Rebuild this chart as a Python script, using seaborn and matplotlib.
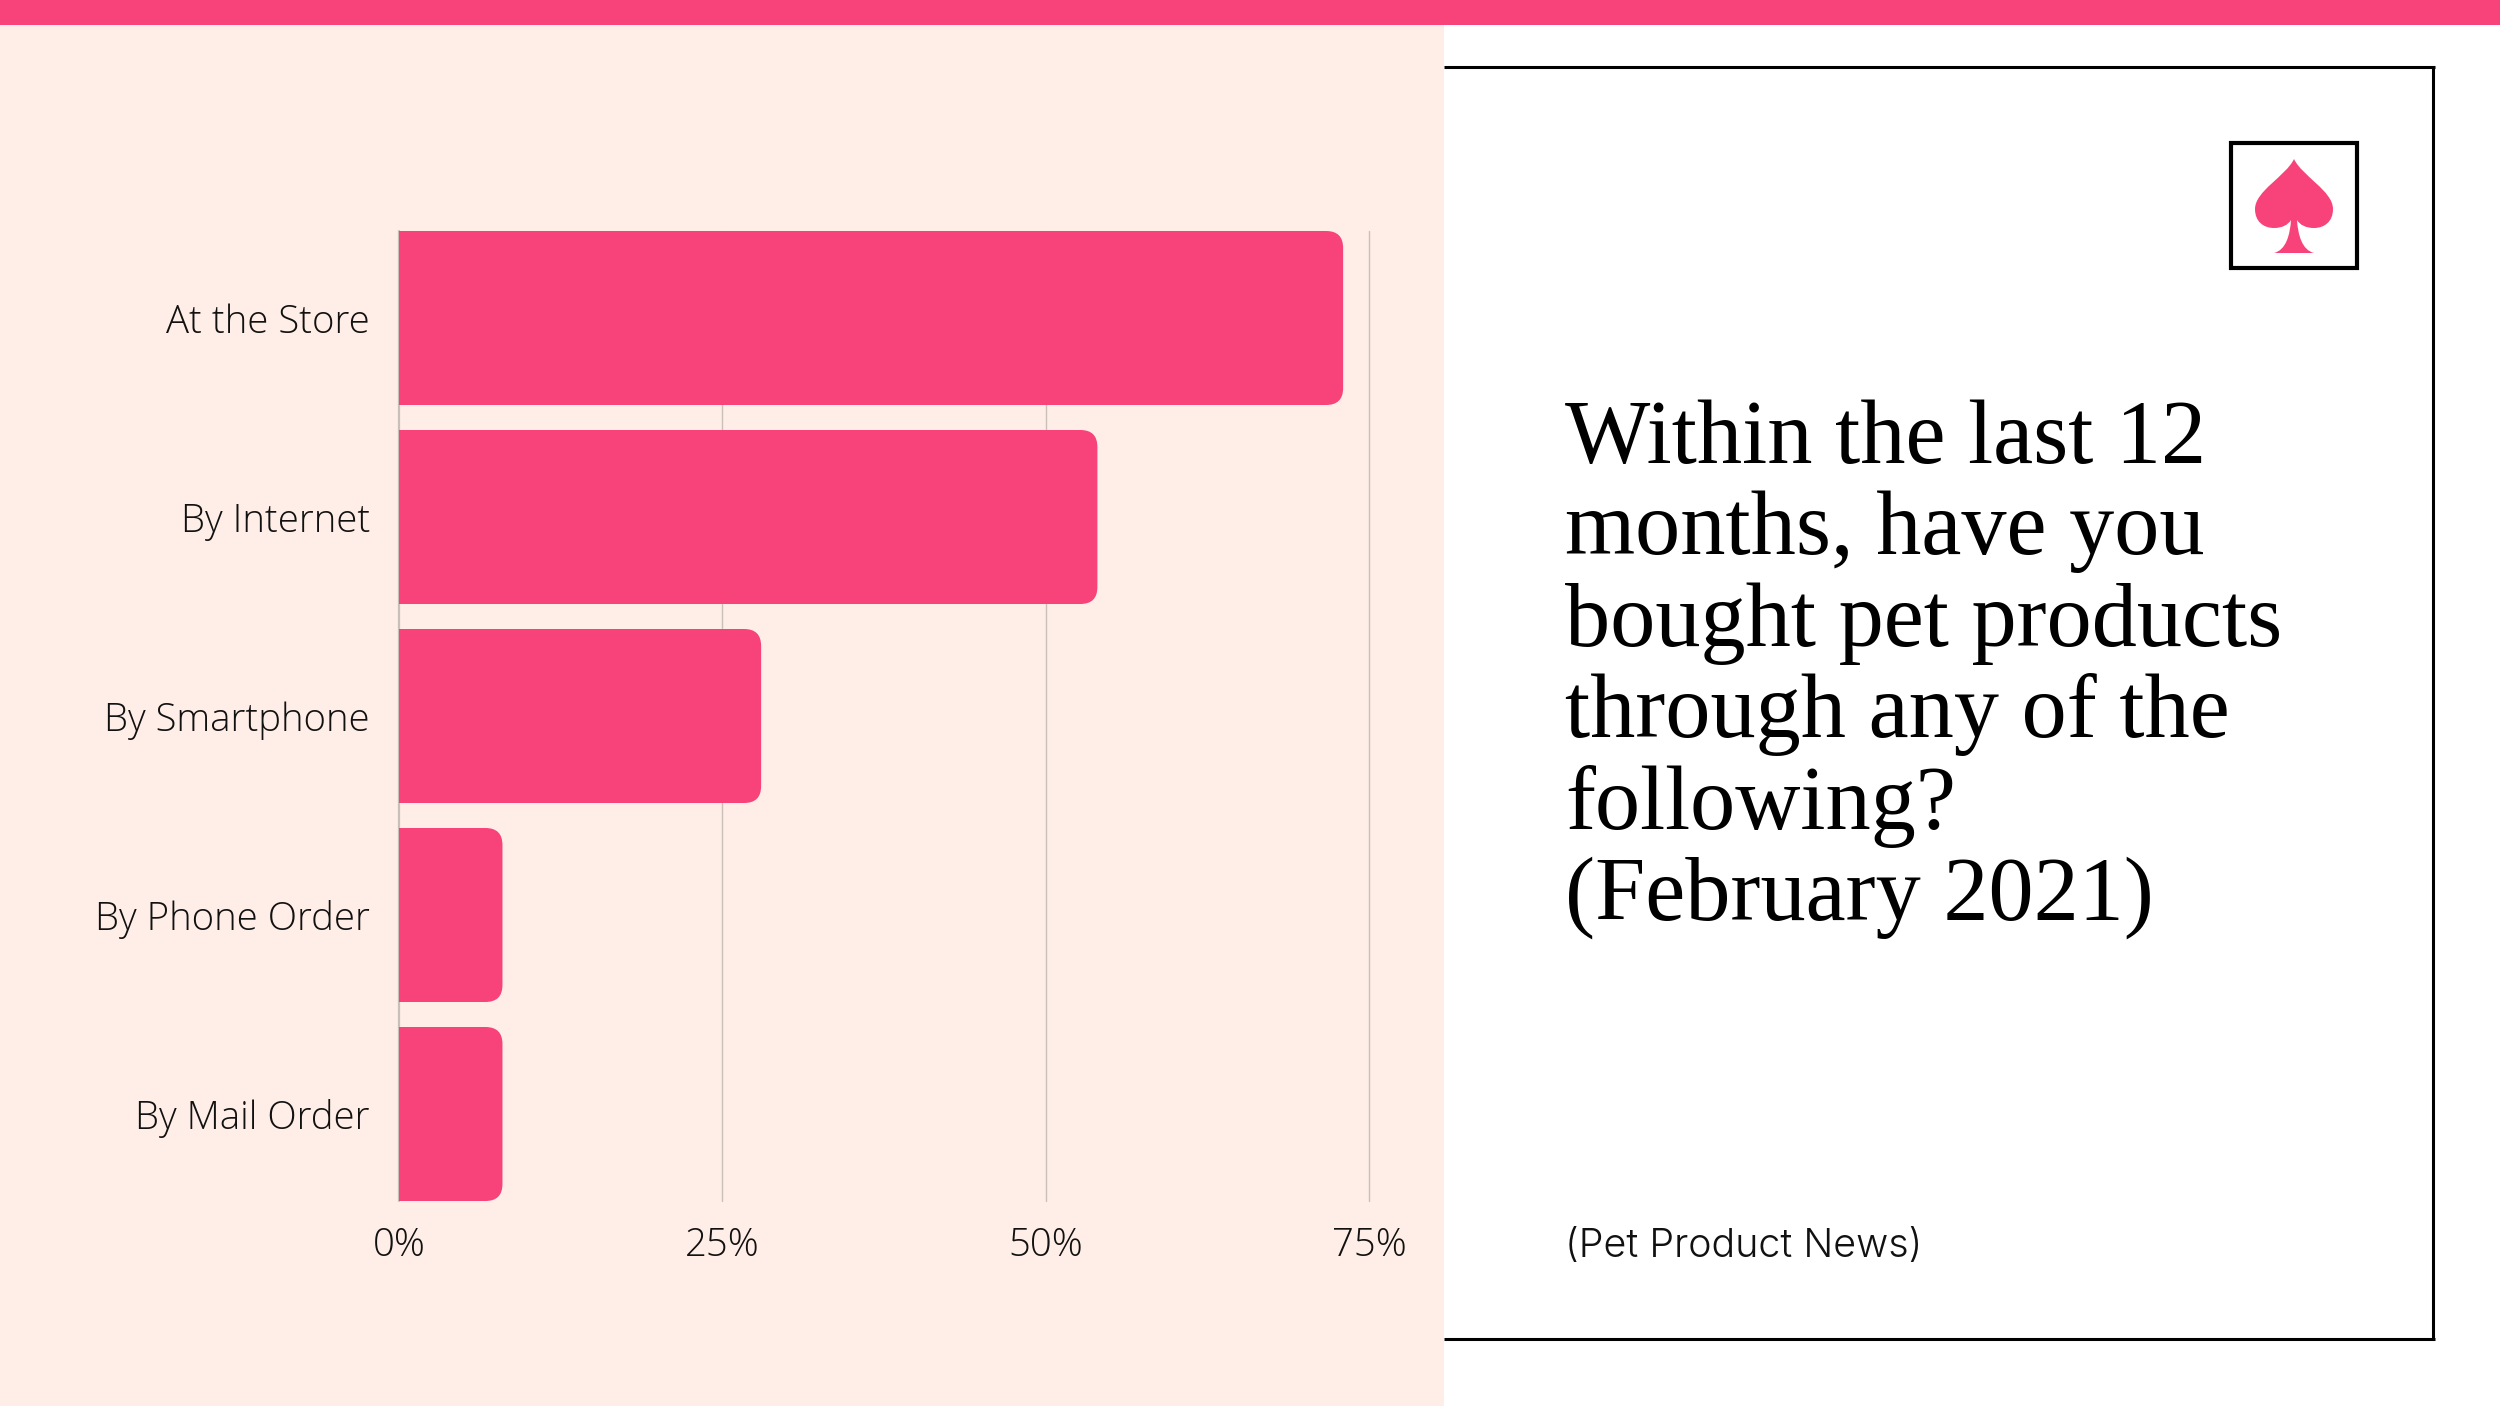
import matplotlib
matplotlib.use("Agg")
import matplotlib.pyplot as plt
import pandas as pd
import seaborn as sns
from matplotlib.patches import PathPatch, Rectangle
from matplotlib.path import Path

categories = ["At the Store", "By Internet", "By Smartphone", "By Phone Order", "By Mail Order"]
shares = [73, 54, 28, 8, 8]
x_ticks = [0, 25, 50, 75]
x_tick_labels = ["0%", "25%", "50%", "75%"]
title_lines = [
    "Within the last 12",
    "months, have you",
    "bought pet products",
    "through any of the",
    "following?",
    "(February 2021)",
]
source = "(Pet Product News)"

PINK = "#F8437A"
PEACH = "#FFEEE7"
GRID = "#C9C0BA"
INK = "#111111"
W, H = 2500, 1406

sns.set_theme(style="white")
plt.rcParams["font.family"] = ["Open Sans", "DejaVu Sans"]

fig = plt.figure(figsize=(W / 100, H / 100), dpi=100, facecolor="white")

# Page furniture lives on a full-figure layer measured in pixels, y pointing down.
page = fig.add_axes([0, 0, 1, 1], zorder=0)
page.set_xlim(0, W)
page.set_ylim(H, 0)
page.axis("off")
page.add_patch(Rectangle((0, 0), 1444, H, fc=PEACH, ec="none"))
page.add_patch(Rectangle((0, 0), W, 25, fc=PINK, ec="none"))
page.plot([1444, 2435], [67, 67], color="black", lw=2.2, solid_capstyle="butt")
page.plot([1444, 2435], [1339, 1339], color="black", lw=2.2, solid_capstyle="butt")
page.plot([2433, 2433], [66, 1340], color="black", lw=2.2, solid_capstyle="butt")
page.add_patch(Rectangle((2231, 143), 126, 125, fc="white", ec="black", lw=3))

# Spade emblem, built from its right half and mirrored about the centre line.
cx = 2294
right = [
    (0, 159),
    (8, 176), (39, 191), (39, 209),
    (39, 222), (30, 228), (20, 228),
    (12, 228), (6, 225), (3, 220),
    (4, 235), (8, 250), (20, 253),
]
verts = [(cx + dx, y) for dx, y in right]
verts += [(cx - 20, 253)]
left = [
    (-8, 250), (-4, 235), (-3, 220),
    (-6, 225), (-12, 228), (-20, 228),
    (-30, 228), (-39, 222), (-39, 209),
    (-39, 191), (-8, 176), (0, 159),
]
verts += [(cx + dx, y) for dx, y in left]
codes = [Path.MOVETO] + [Path.CURVE4] * 12 + [Path.LINETO] + [Path.CURVE4] * 12
page.add_patch(PathPatch(Path(verts, codes), fc=PINK, ec="none"))

# Heading set line by line on a fixed pitch.
for i, line in enumerate(title_lines):
    page.text(1565, 463 + i * 91.4, line, family="Liberation Serif", fontsize=65,
              color="black", ha="left", va="baseline")
page.text(1565, 1257, source, family="Inter", fontsize=28.4, fontweight=300, color=INK,
          ha="left", va="baseline")

# Bar chart
left_px, right_px, top_px, bottom_px = 399, 1369, 231, 1201
ax = fig.add_axes([left_px / W, 1 - bottom_px / H, (right_px - left_px) / W, (bottom_px - top_px) / H],
                  zorder=1)
ax.patch.set_alpha(0)
df = pd.DataFrame({"channel": categories, "share": shares})
bar_px, pitch_px = 174, 199
sns.barplot(data=df, x="share", y="channel", color=PINK, saturation=1, width=bar_px / pitch_px,
            ax=ax, zorder=3)
half = bar_px / pitch_px / 2
ax.set_ylim(len(categories) - 1 + half, -half)
ax.set_xlim(0, 75)
ax.set_xlabel("")
ax.set_ylabel("")
ax.set_xticks(x_ticks, x_tick_labels)
ax.tick_params(axis="both", length=0, labelsize=27.6, labelcolor=INK)
ax.tick_params(axis="y", pad=21)
ax.tick_params(axis="x", pad=18.5)
for label in ax.get_xticklabels() + ax.get_yticklabels():
    label.set_fontweight(300)
for spine in ax.spines.values():
    spine.set_visible(False)
for tick in x_ticks:
    ax.axvline(tick, color=GRID, lw=1.6 if tick == 0 else 1.0, zorder=1, clip_on=False)

# Round the outer corners of each bar, keeping its seaborn-computed extent.
rx = 17 * 75 / (right_px - left_px)
ry = 17 / pitch_px
for bar in list(ax.patches):
    x1 = bar.get_x() + bar.get_width()
    y0, y1 = bar.get_y(), bar.get_y() + bar.get_height()
    x0 = bar.get_x()
    outline = Path(
        [(x0, y0), (x1 - rx, y0), (x1, y0), (x1, y0 + ry), (x1, y1 - ry), (x1, y1), (x1 - rx, y1),
         (x0, y1), (x0, y0)],
        [Path.MOVETO, Path.LINETO, Path.CURVE3, Path.CURVE3, Path.LINETO, Path.CURVE3, Path.CURVE3,
         Path.LINETO, Path.CLOSEPOLY],
    )
    ax.add_patch(PathPatch(outline, fc=PINK, ec="none", zorder=3))
    bar.set_visible(False)

fig.savefig("out.png", dpi=100, facecolor=fig.get_facecolor())
